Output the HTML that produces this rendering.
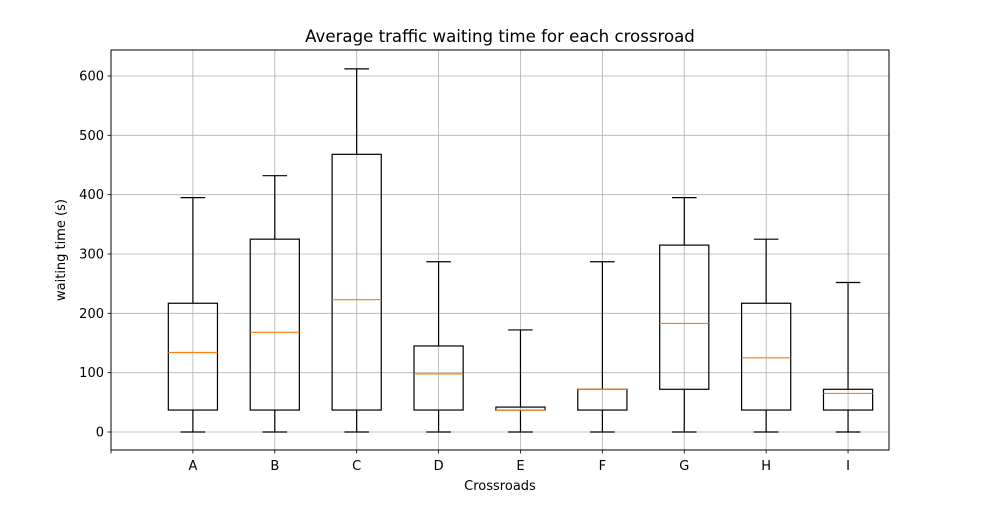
<!DOCTYPE html>
<html><head><meta charset="utf-8"><style>
body{margin:0;background:#fff;}
svg text{font-family:"DejaVu Sans","Liberation Sans",sans-serif;}
</style></head><body>
<svg id="chart" width="1000" height="500" xmlns="http://www.w3.org/2000/svg">
<rect width="1000" height="500" fill="#fff"/>
<g id="grid"></g><g id="marks"></g><g id="axes"></g>
<text x="500" y="42" text-anchor="middle" font-size="16.6">Average traffic waiting time for each crossroad</text>
<text x="500" y="490" text-anchor="middle" font-size="13">Crossroads</text>
<text transform="translate(65,250) rotate(-90)" text-anchor="middle" font-size="13">waiting time (s)</text>
</svg>
<script>
const categories=["A","B","C","D","E","F","G","H","I"];
const whiskerLow=[0,0,0,0,0,0,0,0,0];
const q1=[37,37,37,37,37,37,72,37,37];
const medians=[134,168,223,98,37,72,183,125,65];
const q3=[217,325,468,145,42,72,315,217,72];
const whiskerHigh=[395,432,612,287,172,287,395,325,252];
const yTicks=[0,100,200,300,400,500,600];
const L=111,R=889,T=50,B=450;
const xs=v=>L+v*(R-L)/9.5;
const ys=v=>432-v*(356/600);
const NS="http://www.w3.org/2000/svg";
function mk(p,tag,a){const e=document.createElementNS(NS,tag);for(const k in a)e.setAttribute(k,a[k]);p.appendChild(e);return e;}
const grid=document.getElementById('grid'),marks=document.getElementById('marks'),axes=document.getElementById('axes');
yTicks.forEach(t=>{const y=ys(t);
 const g=mk(grid,'line',{x1:L,x2:R,y1:y,y2:y,stroke:'#b0b0b0','stroke-width':0.8});
 
 
 mk(axes,'line',{x1:L-3.5,x2:L,y1:y,y2:y,stroke:'#000','stroke-width':0.8});
 const tx=mk(axes,'text',{x:L-7,y:y+4.5,'text-anchor':'end','font-size':13});tx.textContent=t;
 
 
});
mk(axes,'line',{x1:L,x2:L,y1:B,y2:B+3.5,stroke:'#000','stroke-width':0.8});
categories.forEach((c,i)=>{const x=xs(i+1);
 const g=mk(grid,'line',{x1:x,x2:x,y1:T,y2:B,stroke:'#b0b0b0','stroke-width':0.8});
 
 
 mk(axes,'line',{x1:x,x2:x,y1:B,y2:B+3.5,stroke:'#000','stroke-width':0.8});
 const tx=mk(axes,'text',{x:x,y:B+20,'text-anchor':'middle','font-size':13});tx.textContent=c;
 
 
 const w=0.6*(R-L)/9.5, cw=w/2;
 const g2=mk(marks,'g',{});
 
 
 const s={stroke:'#000','stroke-width':1.2,fill:'none'};
 mk(g2,'rect',Object.assign({x:x-w/2,y:ys(q3[i]),width:w,height:ys(q1[i])-ys(q3[i])},s));
 mk(g2,'line',Object.assign({x1:x,x2:x,y1:ys(q1[i]),y2:ys(whiskerLow[i])},s));
 mk(g2,'line',Object.assign({x1:x,x2:x,y1:ys(q3[i]),y2:ys(whiskerHigh[i])},s));
 mk(g2,'line',Object.assign({x1:x-cw/2,x2:x+cw/2,y1:ys(whiskerLow[i]),y2:ys(whiskerLow[i])},s));
 mk(g2,'line',Object.assign({x1:x-cw/2,x2:x+cw/2,y1:ys(whiskerHigh[i]),y2:ys(whiskerHigh[i])},s));
 mk(g2,'line',{x1:x-w/2,x2:x+w/2,y1:ys(medians[i]),y2:ys(medians[i]),stroke:'#ff7f0e','stroke-width':1.2});
});
const fr=mk(axes,'rect',{x:L,y:T,width:R-L,height:B-T,fill:'none',stroke:'#000','stroke-width':1});


</script>
</body></html>
